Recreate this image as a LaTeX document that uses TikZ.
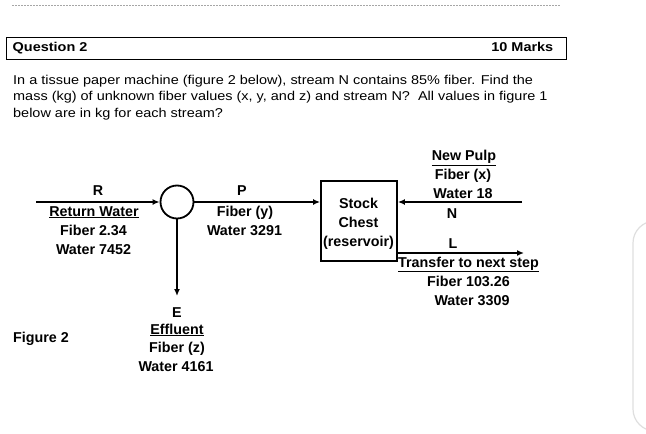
\documentclass[tikz,border=0pt]{standalone}
\usepackage{fontspec}
\setmainfont{Liberation Sans}
\newfontfamily\hdrfont[FakeStretch=1.13]{Liberation Sans}
\usetikzlibrary{arrows.meta}
\begin{document}
\begin{tikzpicture}[x=1pt,y=-1pt,
  flow/.style={line width=1.6pt,-{Latex[length=7pt,width=6pt]}},
  lbl/.style={anchor=base,inner sep=0pt,font=\fontsize{14.3}{17}\selectfont\bfseries},
  mixer/.style={circle,draw,line width=1.8pt,minimum size=33pt,inner sep=0pt},
  chestbox/.style={draw,line width=1.8pt,minimum width=76pt,minimum height=80pt,inner sep=0pt,align=center},
  ptext/.style={anchor=base west,inner sep=0pt,font=\hdrfont\fontsize{12.8}{15}\selectfont}]
\useasboundingbox (0,0) rectangle (646,434);
\fill[white] (0,0) rectangle (646,434);
% header remnant
\draw[gray!70,line width=0.6pt,dash pattern=on 2pt off 1pt] (12,5) -- (560,5);
% right panel
\begin{scope}
\clip (0,0) rectangle (646,434);
\draw[gray!25,line width=1.2pt,rounded corners=22pt] (633,221) rectangle (680,431);
\end{scope}
% question box
\node[draw,line width=0.9pt,minimum width=560pt,minimum height=21.5pt,inner sep=0pt,anchor=north west] (qbox) at (6,37) {};
\node[ptext,font=\hdrfont\fontsize{12.8}{15}\selectfont\bfseries] (q2) at (12.5,51) {Question 2};
\node[anchor=base east,inner sep=0pt,font=\hdrfont\fontsize{12.8}{15}\selectfont\bfseries] (marks) at (553.5,51) {10 Marks};
% paragraph
\node[ptext] (l1) at (13,84) {In a tissue paper machine (figure 2 below), stream N contains 85\% fiber. Find the};
\node[ptext] (l2) at (13,100.5) {mass (kg) of unknown fiber values (x, y, and z) and stream N?\ \ All values in figure 1};
\node[ptext] (l3) at (13,117) {below are in kg for each stream?};
% diagram nodes
\node[mixer] (mix) at (177,202) {};
\node[chestbox] (chest) at (359,221) {};
\node[lbl] (s1) at (358.5,208) {Stock};
\node[lbl] (s2) at (358.5,227) {Chest};
\node[lbl] (s3) at (358.5,246) {(reservoir)};
\coordinate (rin) at (36,202);
\coordinate (nin) at (522,202);
\coordinate (lout) at (524,253);
\coordinate (eout) at (177,296);
% connectors
\draw[flow] (rin) -- (mix.west);
\draw[flow] (mix.east) -- (mix -| chest.west);
\draw[flow] (nin) -- (nin -| chest.east);
\draw[flow] (lout -| chest.east) -- (lout);
\draw[flow] (mix.south) -- (eout);
% labels R
\node[lbl] (r1) at (98,195) {R};
\node[lbl] (r2) at (94,216) {\underline{Return Water}};
\node[lbl] (r3) at (93.5,235) {Fiber 2.34};
\node[lbl] (r4) at (93.5,254) {Water 7452};
% labels P
\node[lbl] (p1) at (242,195) {P};
\node[lbl] (p2) at (245,216) {Fiber (y)};
\node[lbl] (p3) at (244.5,235) {Water 3291};
% labels N
\node[lbl] (n1) at (464,160.5) {\underline{New Pulp}};
\node[lbl] (n2) at (463,179) {Fiber (x)};
\node[lbl] (n3) at (463,198) {Water 18};
\node[lbl] (n4) at (452,218) {N};
% labels L
\node[lbl] (m1) at (453,248) {L};
\node[lbl] (m2) at (468.5,267) {\underline{Transfer to next step}};
\node[lbl] (m3) at (468.5,286) {Fiber 103.26};
\node[lbl] (m4) at (472,305) {Water 3309};
% labels E
\node[lbl] (e1) at (177,317) {E};
\node[lbl] (e2) at (177,334) {\underline{Effluent}};
\node[lbl] (e3) at (177,352) {Fiber (z)};
\node[lbl] (e4) at (176,371) {Water 4161};
% figure caption
\node[lbl,anchor=base west] (fig) at (13,342) {Figure 2};
\end{tikzpicture}
\end{document}
